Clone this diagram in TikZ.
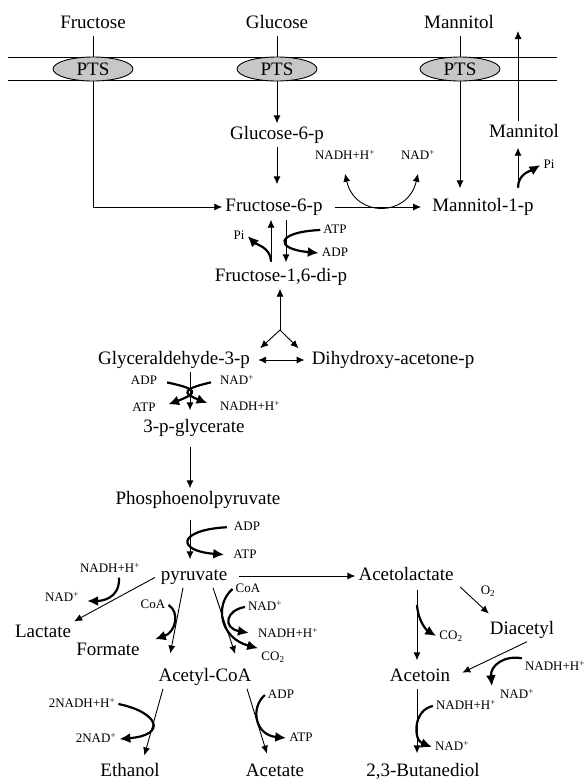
\documentclass[tikz,border=0pt]{standalone}
\usepackage{fontspec}
\setmainfont{Liberation Serif}
\usetikzlibrary{arrows.meta,shapes.geometric}

\begin{document}
\begin{tikzpicture}[x=1pt,y=-1pt,>={Latex[length=8pt,width=7pt]},
	met/.style={font=\fontsize{19}{20}\selectfont,inner sep=3pt,text height=13pt,text depth=4pt},
	cof/.style={font=\fontsize{13}{14}\selectfont,inner sep=3pt,text height=9pt,text depth=2pt},
	pts/.style={ellipse,draw,fill=black!22,line width=0.9pt,minimum width=80pt,minimum height=24pt,inner sep=0pt,font=\fontsize{19}{20}\selectfont},
	flow/.style={->,line width=0.9pt},
	side/.style={line width=2.2pt,-{Latex[length=11pt,width=10pt]}}]
	\useasboundingbox (0,0) rectangle (584,780);

	\draw [line width=0.9pt] (8,57.5) -- (557,57.5);
	\draw [line width=0.9pt] (8,80.5) -- (557,80.5);

	\node [met] (fru) at (93,24) {Fructose};
	\node [met] (glc) at (277,24) {Glucose};
	\node [met] (mtlout) at (459,24) {Mannitol};
	\node [pts] (ptsF) at (93,69) {PTS};
	\node [pts] (ptsG) at (277,69) {PTS};
	\node [pts] (ptsM) at (460,69) {PTS};

	\node [met] (g6p) at (277,135) {Glucose-6-p};
	\node [met] (f6p) at (274,207) {Fructose-6-p};
	\node [met] (mtl1p) at (483,207) {Mannitol-1-p};
	\node [met] (mtlin) at (524,133) {Mannitol};
	\node [met] (f16p) at (281,277) {Fructose-1,6-di-p};
	\node [met] (gap) at (174,360) {Glyceraldehyde-3-p};
	\node [met] (dhap) at (393,360) {Dihydroxy-acetone-p};
	\node [met] (pg3) at (194,428) {3-p-glycerate};
	\node [met] (pep) at (198,500) {Phosphoenolpyruvate};
	\node [met] (pyr) at (194,576) {pyruvate};
	\node [met] (lac) at (43,633) {Lactate};
	\node [met] (form) at (108,651) {Formate};
	\node [met] (accoa) at (205,677) {Acetyl-CoA};
	\node [met] (etoh) at (130,772) {Ethanol};
	\node [met] (acet) at (275,772) {Acetate};
	\node [met] (acl) at (406,576) {Acetolactate};
	\node [met] (diac) at (522,630) {Diacetyl};
	\node [met] (actn) at (420,677) {Acetoin};
	\node [met] (btd) at (423,772) {2,3-Butanediol};

	\node [cof] (nadh1) at (345,156) {NADH+H\textsuperscript{+}};
	\node [cof] (nad1) at (418,156) {NAD\textsuperscript{+}};
	\node [cof] (pi1) at (549,165) {Pi};
	\node [cof] (pi2) at (239,236) {Pi};
	\node [cof] (atp1) at (335,230) {ATP};
	\node [cof] (adp1) at (335,253) {ADP};
	\node [cof] (adp2) at (144,381) {ADP};
	\node [cof] (nad2) at (237,381) {NAD\textsuperscript{+}};
	\node [cof] (atp2) at (144,408) {ATP};
	\node [cof] (nadh2) at (250,407) {NADH+H\textsuperscript{+}};
	\node [cof] (adp3) at (247,527) {ADP};
	\node [cof] (atp3) at (245,555) {ATP};
	\node [cof] (nadh3) at (110,569) {NADH+H\textsuperscript{+}};
	\node [cof] (nad3) at (62,598) {NAD\textsuperscript{+}};
	\node [cof] (coa1) at (153,605) {CoA};
	\node [cof] (coa2) at (248,589) {CoA};
	\node [cof] (nad4) at (265,607) {NAD\textsuperscript{+}};
	\node [cof] (nadh4) at (288,634) {NADH+H\textsuperscript{+}};
	\node [cof] (co2b) at (273,657) {CO\textsubscript{2}};
	\node [cof] (nadh5) at (82,704) {2NADH+H\textsuperscript{+}};
	\node [cof] (nad5) at (96,739) {2NAD\textsuperscript{+}};
	\node [cof] (adp6) at (281,695) {ADP};
	\node [cof] (atp6) at (301,738) {ATP};
	\node [cof] (co2a) at (451,636) {CO\textsubscript{2}};
	\node [cof] (o2) at (488,591) {O\textsubscript{2}};
	\node [cof] (nadh7) at (555,667) {NADH+H\textsuperscript{+}};
	\node [cof] (nad7) at (517,695) {NAD\textsuperscript{+}};
	\node [cof] (nadh8) at (466,706) {NADH+H\textsuperscript{+}};
	\node [cof] (nad8) at (452,747) {NAD\textsuperscript{+}};

	\coordinate (mcol) at (518,0);
	\coordinate (fup) at (271,0);
	\coordinate (fdown) at (286,0);
	\coordinate (split) at (280,330);
	\coordinate (glyc) at (190,0);
	\coordinate (acol) at (417,0);

	\draw [line width=0.9pt] (fru.south -| ptsF) -- (ptsF);
	\draw [flow] (ptsF) |- (f6p);
	\draw [line width=0.9pt] (glc.south -| ptsG) -- (ptsG);
	\draw [flow] (ptsG) -- (g6p);
	\draw [line width=0.9pt] (mtlout.south -| ptsM) -- (ptsM);
	\draw [flow,shorten >=7pt] (ptsM) -- (ptsM |- mtl1p.north);

	\draw [flow,shorten >=11pt] (g6p) -- (g6p |- f6p.north);
	\draw [flow,shorten <=9pt,shorten >=8pt] (f6p) -- (mtl1p);
	\draw [<->,line width=0.9pt] ([yshift=-9pt]nadh1.south) .. controls +(10,44) and +(-10,44) .. ([yshift=-9pt]nad1.south);
	\draw [flow,shorten <=7pt,shorten >=3pt] (mcol |- mtl1p.north) -- coordinate[pos=.15] (mout) (mcol |- mtlin.south);
	\draw [side] (mout) .. controls +(0,-14) and +(-10,6) .. (pi1.west);
	\draw [flow,shorten >=7pt] (mcol |- mtlin.north) -- (mcol |- mtlout.center);

	\draw [flow,shorten <=3pt,shorten >=1pt] (fup |- f16p.north) -- coordinate[pos=.08] (pistart) (fup |- f6p.south);
	\draw [side] (pistart) .. controls +(0,-14) and +(8,8) .. (pi2.east);
	\draw [flow,shorten <=1pt,shorten >=3pt] (fdown |- f6p.south) -- (fdown |- f16p.north);
	\draw [side] (atp1.west) .. controls +(-45,2) and +(-45,-4) .. (adp1.west);

	\draw [flow] (split) -- (split |- f16p.south);
	\draw [flow] (split) -- ([xshift=7pt]gap.north east);
	\draw [flow] (split) -- ([xshift=-10pt]dhap.north west);
	\draw [<->,line width=0.9pt,shorten <=5pt,shorten >=4pt] (gap) -- (dhap);

	\draw [flow,shorten >=6pt] (glyc |- gap.south) -- (glyc |- pg3.north);
	\draw [side,shorten <=7pt,shorten >=10pt] (adp2.east) .. controls (198.5,389) and (198.5,393) .. (atp2.east);
	\draw [side,shorten <=6pt,shorten >=10pt] (nad2.west) .. controls (182,389) and (182,393) .. (nadh2.west);

	\draw [flow,shorten <=7pt] (glyc |- pg3.south) -- (glyc |- pep.north);
	\draw [flow,shorten <=8pt,shorten >=5pt] (glyc |- pep.south) -- (glyc |- pyr.north);
	\draw [side,shorten <=4pt,shorten >=6pt] (adp3.west) .. controls +(-54,3) and +(-54,-4) .. (atp3.west);

	\draw [flow,shorten <=9pt] (pyr) -- (acl);
	\draw [flow,shorten <=3pt] (pyr.west) -- (lac.north east);
	\draw [side,shorten >=5pt] ([xshift=9pt]nadh3.south) .. controls +(1,22) and +(18,0) .. ([yshift=-3pt]nad3.east);
	\draw [flow,shorten >=12pt] ([xshift=-11pt]pyr.south) -- ([xshift=-37pt]accoa.north);
	\draw [side] (coa1.east) .. controls (180,612) and (176,632) .. ([xshift=12pt]form.north east);
	\draw [flow,shorten >=12pt] ([xshift=19pt]pyr.south) -- ([xshift=34pt]accoa.north);
	\draw [side] (coa2.west) .. controls (214,605) and (220,638) .. (co2b.north west);
	\draw [side,shorten >=6pt] (nad4.west) .. controls (226,610) and (222,628) .. (nadh4.west);

	\draw [flow,shorten >=5pt] ([xshift=-42pt]accoa.south) -- ([xshift=13pt]etoh.north);
	\draw [side] (nadh5.east) .. controls (158,712) and (168,735) .. (nad5.east);
	\draw [flow,shorten >=7pt] ([xshift=42pt]accoa.south) -- ([xshift=-6pt]acet.north);
	\draw [side] (adp6.west) .. controls (250,708) and (255,735) .. (atp6.west);

	\draw [flow,shorten <=2pt,shorten >=5pt] (acol |- acl.south) -- coordinate[pos=.22] (decarb) (acol |- actn.north);
	\draw [side] (decarb) .. controls +(1,16) and +(-10,-6) .. (co2a.west);
	\draw [flow,shorten <=5pt,shorten >=1pt] ([yshift=4pt]acl.south east) -- ([xshift=3pt,yshift=4pt]diac.north west);
	\draw [flow,shorten >=10pt] ([xshift=5pt]diac.south) -- (actn.east);
	\draw [side] (nadh7.north west) .. controls (505,655) and (490,665) .. ([xshift=-5pt]nad7.north west);
	\draw [flow,shorten >=7pt] (acol |- actn.south) -- (acol |- btd.north);
	\draw [side] (nadh8.west) .. controls (413,710) and (413,740) .. (nad8.west);
\end{tikzpicture}
\end{document}
